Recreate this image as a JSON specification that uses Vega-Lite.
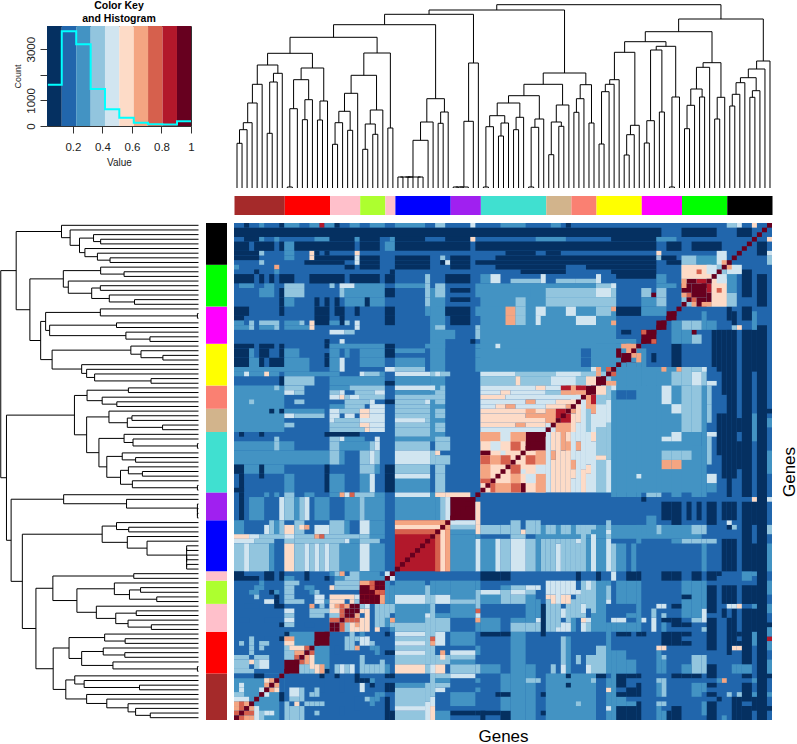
{"$schema":"https://vega.github.io/schema/vega-lite/v6.json","padding":0,"background":"white","config":{"view":{"stroke":null},"font":"Liberation Sans"},
"datasets":{
"tree":[{"l":1,"r":2,"h":44.7,"a":0,"b":0},{"l":1.5,"r":3,"h":58.3,"a":44.7,"b":0},{"l":2.25,"r":4,"h":65.3,"a":58.3,"b":0},{"l":3.125,"r":5,"h":85,"a":65.3,"b":0},{"l":4.06,"r":6,"h":103.7,"a":85,"b":0},{"l":7,"r":8,"h":54.7,"a":0,"b":0},{"l":7.5,"r":9,"h":106,"a":54.7,"b":0},{"l":8.25,"r":10,"h":114.7,"a":106,"b":0},{"l":5.03,"r":9.125,"h":123,"a":103.7,"b":114.7},{"l":11,"r":12,"h":1,"a":0,"b":0},{"l":11.5,"r":13,"h":79.3,"a":1,"b":0},{"l":14,"r":15,"h":68.3,"a":0,"b":0},{"l":14.5,"r":16,"h":88.3,"a":68.3,"b":0},{"l":12.25,"r":15.25,"h":108.3,"a":79.3,"b":88.3},{"l":17,"r":18,"h":68,"a":0,"b":0},{"l":17.5,"r":19,"h":87,"a":68,"b":0},{"l":13.75,"r":18.25,"h":120,"a":108.3,"b":87},{"l":7.08,"r":16,"h":134.7,"a":123,"b":120},{"l":20,"r":21,"h":43.7,"a":0,"b":0},{"l":20.5,"r":22,"h":65.3,"a":43.7,"b":0},{"l":23,"r":24,"h":57.7,"a":0,"b":0},{"l":21.25,"r":23.5,"h":76.7,"a":65.3,"b":57.7},{"l":22.375,"r":25,"h":94.7,"a":76.7,"b":0},{"l":26,"r":27,"h":38.7,"a":0,"b":0},{"l":28,"r":29,"h":53.7,"a":0,"b":0},{"l":26.5,"r":28.5,"h":64,"a":38.7,"b":53.7},{"l":27.5,"r":30,"h":78,"a":64,"b":0},{"l":23.69,"r":28.75,"h":112.7,"a":94.7,"b":78},{"l":31,"r":32,"h":60,"a":0,"b":0},{"l":26.22,"r":31.5,"h":135,"a":112.7,"b":60},{"l":11.54,"r":28.86,"h":150.7,"a":134.7,"b":135},{"l":33,"r":34,"h":11,"a":0,"b":0},{"l":35,"r":36,"h":11,"a":0,"b":0},{"l":37,"r":38,"h":11,"a":0,"b":0},{"l":33.5,"r":35.5,"h":11,"a":11,"b":11},{"l":34.5,"r":37.5,"h":11,"a":11,"b":11},{"l":36,"r":39,"h":47.7,"a":11,"b":0},{"l":37.5,"r":40,"h":66,"a":47.7,"b":0},{"l":41,"r":42,"h":64.7,"a":0,"b":0},{"l":41.5,"r":43,"h":76,"a":64.7,"b":0},{"l":38.75,"r":42.25,"h":89.3,"a":66,"b":76},{"l":20.2,"r":40.5,"h":163.3,"a":150.7,"b":89.3},{"l":44,"r":45,"h":1,"a":0,"b":0},{"l":44.5,"r":46,"h":1,"a":1,"b":0},{"l":45.25,"r":47,"h":1,"a":1,"b":0},{"l":46.125,"r":48,"h":66.7,"a":1,"b":0},{"l":47.06,"r":49,"h":125,"a":66.7,"b":0},{"l":30.35,"r":48.03,"h":173.7,"a":163.3,"b":125},{"l":50,"r":51,"h":1,"a":0,"b":0},{"l":50.5,"r":52,"h":61.3,"a":1,"b":0},{"l":53,"r":54,"h":52,"a":0,"b":0},{"l":53.5,"r":55,"h":65,"a":52,"b":0},{"l":51.25,"r":54.25,"h":72.3,"a":61.3,"b":65},{"l":56,"r":57,"h":58.3,"a":0,"b":0},{"l":56.5,"r":58,"h":70.7,"a":58.3,"b":0},{"l":52.75,"r":57.25,"h":85,"a":72.3,"b":70.7},{"l":59,"r":60,"h":1,"a":0,"b":0},{"l":59.5,"r":61,"h":60.7,"a":1,"b":0},{"l":60.25,"r":62,"h":69,"a":60.7,"b":0},{"l":55,"r":61.125,"h":92.3,"a":85,"b":69},{"l":63,"r":64,"h":33.3,"a":0,"b":0},{"l":65,"r":66,"h":61.7,"a":0,"b":0},{"l":63.5,"r":65.5,"h":66,"a":33.3,"b":61.7},{"l":64.5,"r":67,"h":83,"a":66,"b":0},{"l":58.06,"r":65.75,"h":103.7,"a":92.3,"b":83},{"l":68,"r":69,"h":75.7,"a":0,"b":0},{"l":68.5,"r":70,"h":89.3,"a":75.7,"b":0},{"l":71,"r":72,"h":65,"a":0,"b":0},{"l":69.25,"r":71.5,"h":103.3,"a":89.3,"b":65},{"l":61.9,"r":70.375,"h":115,"a":103.7,"b":103.3},{"l":39.19,"r":66.14,"h":178,"a":173.7,"b":115},{"l":73,"r":74,"h":44,"a":0,"b":0},{"l":73.5,"r":75,"h":96.3,"a":44,"b":0},{"l":74.25,"r":76,"h":103.7,"a":96.3,"b":0},{"l":75.125,"r":77,"h":108.3,"a":103.7,"b":0},{"l":78,"r":79,"h":33,"a":0,"b":0},{"l":78.5,"r":80,"h":53.3,"a":33,"b":0},{"l":79.25,"r":81,"h":62.7,"a":53.3,"b":0},{"l":76.06,"r":80.125,"h":135.7,"a":108.3,"b":62.7},{"l":82,"r":83,"h":45,"a":0,"b":0},{"l":82.5,"r":84,"h":67.3,"a":45,"b":0},{"l":85,"r":86,"h":76,"a":0,"b":0},{"l":83.25,"r":85.5,"h":138,"a":67.3,"b":76},{"l":87,"r":88,"h":1,"a":0,"b":0},{"l":87.5,"r":89,"h":91,"a":1,"b":0},{"l":84.375,"r":88.25,"h":141.7,"a":138,"b":91},{"l":78.09,"r":86.31,"h":146.3,"a":135.7,"b":141.7},{"l":90,"r":91,"h":59.3,"a":0,"b":0},{"l":90.5,"r":92,"h":82.7,"a":59.3,"b":0},{"l":93,"r":94,"h":91,"a":0,"b":0},{"l":91.25,"r":93.5,"h":99,"a":82.7,"b":91},{"l":92.375,"r":95,"h":120.7,"a":99,"b":0},{"l":96,"r":97,"h":69,"a":0,"b":0},{"l":96.5,"r":98,"h":90.7,"a":69,"b":0},{"l":93.69,"r":97.25,"h":125.3,"a":120.7,"b":90.7},{"l":82.2,"r":95.47,"h":156.3,"a":146.3,"b":125.3},{"l":99,"r":100,"h":82,"a":0,"b":0},{"l":99.5,"r":101,"h":93.7,"a":82,"b":0},{"l":100.25,"r":102,"h":105.3,"a":93.7,"b":0},{"l":103,"r":104,"h":90.7,"a":0,"b":0},{"l":103.5,"r":105,"h":97.3,"a":90.7,"b":0},{"l":101.125,"r":104.25,"h":110.3,"a":105.3,"b":97.3},{"l":102.69,"r":106,"h":119,"a":110.3,"b":0},{"l":104.34,"r":107,"h":127,"a":119,"b":0},{"l":88.83,"r":105.67,"h":169,"a":156.3,"b":127},{"l":52.66,"r":97.25,"h":183.3,"a":178,"b":169}],
"mods":[{"a":0,"b":10,"m":"brown"},{"a":10,"b":19,"m":"red"},{"a":19,"b":25,"m":"pink"},{"a":25,"b":30,"m":"greenyellow"},{"a":30,"b":32,"m":"pink"},{"a":32,"b":43,"m":"blue"},{"a":43,"b":49,"m":"purple"},{"a":49,"b":62,"m":"turquoise"},{"a":62,"b":67,"m":"tan"},{"a":67,"b":72,"m":"salmon"},{"a":72,"b":81,"m":"yellow"},{"a":81,"b":89,"m":"magenta"},{"a":89,"b":98,"m":"green"},{"a":98,"b":107,"m":"black"}],
"key":[{"a":0.024,"b":0.124,"v":0.07},{"a":0.124,"b":0.222,"v":0.17},{"a":0.222,"b":0.32,"v":0.27},{"a":0.32,"b":0.417,"v":0.37},{"a":0.417,"b":0.514,"v":0.47},{"a":0.514,"b":0.612,"v":0.56},{"a":0.612,"b":0.709,"v":0.66},{"a":0.709,"b":0.807,"v":0.76},{"a":0.807,"b":0.905,"v":0.86},{"a":0.905,"b":1,"v":0.95}],
"hist":[{"x":0.03,"n":1613},{"x":0.124,"n":3700},{"x":0.222,"n":3195},{"x":0.32,"n":1445},{"x":0.417,"n":653},{"x":0.514,"n":318},{"x":0.612,"n":124},{"x":0.709,"n":70},{"x":0.807,"n":60},{"x":0.905,"n":186},{"x":1,"n":186}],
"blocks":[{"a":0,"b":107,"v":0.2},{"a":0,"b":10,"v":0.3},{"a":10,"b":19,"v":0.3},{"a":19,"b":25,"v":0.4},{"a":25,"b":30,"v":0.9},{"a":32,"b":43,"v":0.9},{"a":43,"b":48,"v":1},{"a":49,"b":62,"v":0.6},{"a":62,"b":67,"v":0.5},{"a":67,"b":72,"v":0.5},{"a":72,"b":81,"v":0.3},{"a":89,"b":98,"v":0.4},{"a":10,"b":13,"v":1},{"a":16,"b":19,"v":1},{"a":58,"b":62,"v":1},{"a":70,"b":72,"v":1},{"a":72,"b":74,"v":1},{"a":77,"b":79,"v":1},{"a":81,"b":84,"v":1},{"a":84,"b":86,"v":1},{"a":86,"b":88,"v":1},{"a":91,"b":94,"v":1}],
"diag":[{"a":0,"b":1},{"a":1,"b":2},{"a":2,"b":3},{"a":3,"b":4},{"a":4,"b":5},{"a":5,"b":6},{"a":6,"b":7},{"a":7,"b":8},{"a":8,"b":9},{"a":9,"b":10},{"a":10,"b":11},{"a":11,"b":12},{"a":12,"b":13},{"a":13,"b":14},{"a":14,"b":15},{"a":15,"b":16},{"a":16,"b":17},{"a":17,"b":18},{"a":18,"b":19},{"a":19,"b":20},{"a":20,"b":21},{"a":21,"b":22},{"a":22,"b":23},{"a":23,"b":24},{"a":24,"b":25},{"a":25,"b":26},{"a":26,"b":27},{"a":27,"b":28},{"a":28,"b":29},{"a":29,"b":30},{"a":30,"b":31},{"a":31,"b":32},{"a":32,"b":33},{"a":33,"b":34},{"a":34,"b":35},{"a":35,"b":36},{"a":36,"b":37},{"a":37,"b":38},{"a":38,"b":39},{"a":39,"b":40},{"a":40,"b":41},{"a":41,"b":42},{"a":42,"b":43},{"a":43,"b":44},{"a":44,"b":45},{"a":45,"b":46},{"a":46,"b":47},{"a":47,"b":48},{"a":48,"b":49},{"a":49,"b":50},{"a":50,"b":51},{"a":51,"b":52},{"a":52,"b":53},{"a":53,"b":54},{"a":54,"b":55},{"a":55,"b":56},{"a":56,"b":57},{"a":57,"b":58},{"a":58,"b":59},{"a":59,"b":60},{"a":60,"b":61},{"a":61,"b":62},{"a":62,"b":63},{"a":63,"b":64},{"a":64,"b":65},{"a":65,"b":66},{"a":66,"b":67},{"a":67,"b":68},{"a":68,"b":69},{"a":69,"b":70},{"a":70,"b":71},{"a":71,"b":72},{"a":72,"b":73},{"a":73,"b":74},{"a":74,"b":75},{"a":75,"b":76},{"a":76,"b":77},{"a":77,"b":78},{"a":78,"b":79},{"a":79,"b":80},{"a":80,"b":81},{"a":81,"b":82},{"a":82,"b":83},{"a":83,"b":84},{"a":84,"b":85},{"a":85,"b":86},{"a":86,"b":87},{"a":87,"b":88},{"a":88,"b":89},{"a":89,"b":90},{"a":90,"b":91},{"a":91,"b":92},{"a":92,"b":93},{"a":93,"b":94},{"a":94,"b":95},{"a":95,"b":96},{"a":96,"b":97},{"a":97,"b":98},{"a":98,"b":99},{"a":99,"b":100},{"a":100,"b":101},{"a":101,"b":102},{"a":102,"b":103},{"a":103,"b":104},{"a":104,"b":105},{"a":105,"b":106},{"a":106,"b":107}],
"heat":[
{"a":39,"b":42,"c":60,"d":93,"v":0.3},{"a":49,"b":72,"c":72,"d":93,"v":0.3},{"a":72,"b":76,"c":81,"d":93,"v":0.3},{"a":0,"b":10,"c":62,"d":72,"v":0.3},
{"a":2,"b":3,"c":106,"d":107,"v":0.1},{"a":5,"b":6,"c":106,"d":107,"v":0.3},{"a":9,"b":10,"c":106,"d":107,"v":0.1},{"a":10,"b":13,"c":106,"d":107,"v":0.3},{"a":15,"b":17,"c":106,"d":107,"v":0.3},{"a":17,"b":18,"c":106,"d":107,"v":0.9},{"a":18,"b":20,"c":106,"d":107,"v":0.3},{"a":20,"b":21,"c":106,"d":107,"v":0.1},{"a":23,"b":25,"c":106,"d":107,"v":0.3},{"a":27,"b":30,"c":106,"d":107,"v":0.3},{"a":32,"b":38,"c":106,"d":107,"v":0.3},{"a":40,"b":42,"c":106,"d":107,"v":0.4},{"a":47,"b":48,"c":106,"d":107,"v":0.5},{"a":53,"b":58,"c":106,"d":107,"v":0.3},{"a":63,"b":65,"c":106,"d":107,"v":0.3},{"a":66,"b":67,"c":106,"d":107,"v":0.1},{"a":98,"b":100,"c":106,"d":107,"v":0.4},{"a":100,"b":101,"c":106,"d":107,"v":0.5},{"a":103,"b":104,"c":106,"d":107,"v":0.6},
{"a":0,"b":85,"c":104,"d":106,"v":0.1},{"a":89,"b":96,"c":104,"d":106,"v":0.1},{"a":100,"b":103,"c":104,"d":106,"v":0.1},
{"a":2,"b":5,"c":103,"d":104,"v":0.1},{"a":5,"b":6,"c":103,"d":104,"v":0.3},{"a":8,"b":9,"c":103,"d":104,"v":0.3},{"a":16,"b":19,"c":103,"d":104,"v":0.3},{"a":19,"b":24,"c":103,"d":104,"v":0.1},{"a":24,"b":25,"c":103,"d":104,"v":0.3},{"a":25,"b":29,"c":103,"d":104,"v":0.1},{"a":31,"b":32,"c":103,"d":104,"v":0.3},{"a":32,"b":38,"c":103,"d":104,"v":0.1},{"a":42,"b":47,"c":103,"d":104,"v":0.1},{"a":47,"b":48,"c":103,"d":104,"v":0.6},{"a":60,"b":66,"c":103,"d":104,"v":0.3},{"a":75,"b":84,"c":103,"d":104,"v":0.1},{"a":84,"b":88,"c":103,"d":104,"v":0.3},
{"a":0,"b":3,"c":101,"d":103,"v":0.1},{"a":4,"b":8,"c":101,"d":103,"v":0.1},{"a":9,"b":10,"c":101,"d":103,"v":0.1},{"a":10,"b":12,"c":101,"d":103,"v":0.3},{"a":12,"b":24,"c":101,"d":103,"v":0.1},{"a":25,"b":29,"c":101,"d":103,"v":0.1},{"a":30,"b":32,"c":101,"d":103,"v":0.3},{"a":32,"b":47,"c":101,"d":103,"v":0.1},{"a":48,"b":84,"c":101,"d":103,"v":0.1},{"a":86,"b":89,"c":101,"d":103,"v":0.1},{"a":91,"b":97,"c":101,"d":103,"v":0.1},
{"a":0,"b":5,"c":100,"d":101,"v":0.1},{"a":5,"b":6,"c":100,"d":101,"v":0.4},{"a":10,"b":12,"c":100,"d":101,"v":0.3},{"a":15,"b":16,"c":100,"d":101,"v":0.6},{"a":16,"b":17,"c":100,"d":101,"v":0.1},{"a":18,"b":19,"c":100,"d":101,"v":0.1},{"a":24,"b":25,"c":100,"d":101,"v":0.6},{"a":54,"b":60,"c":100,"d":101,"v":0.1},{"a":62,"b":65,"c":100,"d":101,"v":0.1},{"a":84,"b":85,"c":100,"d":101,"v":0.6},
{"a":0,"b":5,"c":99,"d":100,"v":0.1},{"a":10,"b":12,"c":99,"d":100,"v":0.3},{"a":15,"b":16,"c":99,"d":100,"v":0.6},{"a":16,"b":24,"c":99,"d":100,"v":0.1},{"a":24,"b":25,"c":99,"d":100,"v":0.5},{"a":25,"b":29,"c":99,"d":100,"v":0.1},{"a":32,"b":39,"c":99,"d":100,"v":0.1},{"a":41,"b":42,"c":99,"d":100,"v":0.4},{"a":43,"b":47,"c":99,"d":100,"v":0.1},{"a":52,"b":84,"c":99,"d":100,"v":0.1},{"a":84,"b":85,"c":99,"d":100,"v":0.4},{"a":85,"b":88,"c":99,"d":100,"v":0.1},
{"a":5,"b":6,"c":98,"d":99,"v":0.4},{"a":14,"b":22,"c":98,"d":99,"v":0.1},{"a":24,"b":25,"c":98,"d":99,"v":0.5},{"a":25,"b":29,"c":98,"d":99,"v":0.1},{"a":32,"b":39,"c":98,"d":99,"v":0.1},{"a":41,"b":42,"c":98,"d":99,"v":0.1},{"a":42,"b":43,"c":98,"d":99,"v":0.5},{"a":43,"b":47,"c":98,"d":99,"v":0.1},{"a":48,"b":84,"c":98,"d":99,"v":0.1},{"a":86,"b":89,"c":98,"d":99,"v":0.1},
{"a":89,"b":92,"c":98,"d":100,"v":0.4},{"a":92,"b":98,"c":98,"d":100,"v":0.3},{"a":96,"b":98,"c":98,"d":101,"v":0.5},{"a":97,"b":98,"c":98,"d":99,"v":0.7},
{"a":0,"b":1,"c":97,"d":98,"v":0.3},{"a":8,"b":9,"c":97,"d":98,"v":0.7},{"a":22,"b":24,"c":97,"d":98,"v":0.1},{"a":25,"b":29,"c":97,"d":98,"v":0.1},{"a":32,"b":39,"c":97,"d":98,"v":0.1},{"a":43,"b":47,"c":97,"d":98,"v":0.1},{"a":52,"b":66,"c":97,"d":98,"v":0.1},{"a":70,"b":84,"c":97,"d":98,"v":0.1},
{"a":4,"b":5,"c":96,"d":97,"v":0.1},{"a":8,"b":9,"c":96,"d":97,"v":0.3},{"a":31,"b":32,"c":96,"d":97,"v":0.1},{"a":57,"b":66,"c":96,"d":97,"v":0.1},{"a":75,"b":84,"c":96,"d":97,"v":0.1},
{"a":0,"b":4,"c":94,"d":96,"v":0.1},{"a":5,"b":6,"c":94,"d":96,"v":0.1},{"a":7,"b":8,"c":94,"d":96,"v":0.1},{"a":9,"b":12,"c":94,"d":96,"v":0.1},{"a":15,"b":22,"c":94,"d":96,"v":0.1},{"a":23,"b":29,"c":94,"d":96,"v":0.1},{"a":30,"b":32,"c":94,"d":96,"v":0.1},{"a":38,"b":39,"c":94,"d":96,"v":0.4},{"a":42,"b":47,"c":94,"d":96,"v":0.1},{"a":49,"b":51,"c":94,"d":96,"v":0.3},{"a":51,"b":53,"c":94,"d":96,"v":0.5},{"a":55,"b":61,"c":94,"d":95,"v":0.4},{"a":61,"b":62,"c":94,"d":96,"v":0.5},{"a":64,"b":68,"c":94,"d":95,"v":0.4},{"a":68,"b":72,"c":94,"d":95,"v":0.4},{"a":72,"b":73,"c":94,"d":96,"v":0.5},{"a":76,"b":84,"c":95,"d":96,"v":0.1},{"a":84,"b":86,"c":94,"d":96,"v":0.3},
{"a":1,"b":4,"c":93,"d":94,"v":0.3},{"a":6,"b":8,"c":93,"d":94,"v":0.3},{"a":10,"b":14,"c":93,"d":94,"v":0.4},{"a":19,"b":20,"c":93,"d":94,"v":0.4},{"a":21,"b":24,"c":93,"d":94,"v":0.5},{"a":24,"b":30,"c":93,"d":94,"v":0.3},{"a":32,"b":38,"c":93,"d":94,"v":0.3},{"a":38,"b":39,"c":93,"d":94,"v":0.4},{"a":40,"b":42,"c":93,"d":94,"v":0.4},{"a":48,"b":72,"c":93,"d":94,"v":0.3},{"a":72,"b":76,"c":93,"d":94,"v":0.4},{"a":75,"b":76,"c":93,"d":94,"v":0.5},{"a":84,"b":88,"c":93,"d":94,"v":0.3},
{"a":5,"b":8,"c":91,"d":93,"v":0.3},{"a":9,"b":10,"c":91,"d":93,"v":0.1},{"a":10,"b":14,"c":91,"d":93,"v":0.4},{"a":21,"b":22,"c":91,"d":93,"v":0.4},{"a":22,"b":30,"c":91,"d":93,"v":0.3},{"a":30,"b":32,"c":91,"d":93,"v":0.1},{"a":38,"b":39,"c":91,"d":93,"v":0.4},{"a":40,"b":42,"c":91,"d":93,"v":0.4},{"a":43,"b":47,"c":92,"d":93,"v":0.1},{"a":48,"b":59,"c":91,"d":93,"v":0.3},{"a":62,"b":72,"c":91,"d":93,"v":0.4},{"a":72,"b":75,"c":91,"d":93,"v":0.5},{"a":75,"b":76,"c":91,"d":93,"v":0.4},{"a":81,"b":83,"c":91,"d":93,"v":0.4},{"a":83,"b":84,"c":91,"d":92,"v":1},{"a":84,"b":86,"c":91,"d":93,"v":0.4},
{"a":9,"b":10,"c":89,"d":91,"v":0.1},{"a":10,"b":12,"c":89,"d":91,"v":0.3},{"a":16,"b":17,"c":89,"d":91,"v":0.1},{"a":18,"b":19,"c":89,"d":91,"v":0.1},{"a":20,"b":21,"c":89,"d":91,"v":0.1},{"a":22,"b":30,"c":89,"d":91,"v":0.3},{"a":26,"b":27,"c":89,"d":91,"v":0.1},{"a":38,"b":39,"c":89,"d":91,"v":0.4},{"a":43,"b":47,"c":90,"d":91,"v":0.1},{"a":56,"b":58,"c":89,"d":91,"v":0.4},{"a":62,"b":72,"c":89,"d":91,"v":0.4},{"a":72,"b":76,"c":89,"d":91,"v":0.4},{"a":81,"b":84,"c":89,"d":91,"v":0.3},{"a":84,"b":86,"c":89,"d":91,"v":0.4},
{"a":89,"b":90,"c":91,"d":92,"v":0.7},{"a":90,"b":91,"c":91,"d":92,"v":0.8},{"a":89,"b":91,"c":92,"d":94,"v":1},{"a":90,"b":92,"c":94,"d":95,"v":1},{"a":92,"b":94,"c":94,"d":95,"v":0.9},{"a":89,"b":95,"c":95,"d":98,"v":0.6},{"a":92,"b":93,"c":96,"d":97,"v":0.8},{"a":94,"b":96,"c":96,"d":98,"v":0.5},{"a":89,"b":90,"c":93,"d":95,"v":0.7},
{"a":0,"b":3,"c":87,"d":89,"v":0.1},{"a":9,"b":10,"c":87,"d":89,"v":0.1},{"a":16,"b":19,"c":87,"d":89,"v":0.1},{"a":20,"b":22,"c":87,"d":89,"v":0.1},{"a":24,"b":25,"c":87,"d":89,"v":0.1},{"a":30,"b":32,"c":87,"d":89,"v":0.1},{"a":38,"b":39,"c":87,"d":89,"v":0.3},{"a":40,"b":42,"c":87,"d":89,"v":0.3},{"a":42,"b":47,"c":87,"d":89,"v":0.1},{"a":48,"b":54,"c":87,"d":89,"v":0.3},{"a":54,"b":56,"c":87,"d":89,"v":0.7},{"a":56,"b":58,"c":87,"d":89,"v":0.4},{"a":60,"b":62,"c":87,"d":89,"v":0.5},{"a":66,"b":68,"c":87,"d":89,"v":0.5},{"a":72,"b":75,"c":87,"d":89,"v":0.4},{"a":75,"b":76,"c":88,"d":89,"v":0.7},{"a":76,"b":81,"c":87,"d":89,"v":0.1},{"a":81,"b":86,"c":87,"d":89,"v":0.3},
{"a":0,"b":2,"c":86,"d":87,"v":0.1},{"a":16,"b":19,"c":85,"d":87,"v":0.1},{"a":21,"b":22,"c":85,"d":87,"v":0.1},{"a":30,"b":32,"c":85,"d":87,"v":0.1},{"a":43,"b":47,"c":85,"d":87,"v":0.1},{"a":54,"b":56,"c":85,"d":87,"v":0.7},{"a":56,"b":58,"c":85,"d":87,"v":0.4},{"a":60,"b":61,"c":85,"d":87,"v":0.5},{"a":68,"b":72,"c":85,"d":87,"v":0.5},{"a":75,"b":76,"c":85,"d":86,"v":0.7},{"a":0,"b":2,"c":85,"d":86,"v":0.3},{"a":3,"b":4,"c":85,"d":86,"v":0.4},{"a":5,"b":9,"c":85,"d":86,"v":0.4},{"a":10,"b":13,"c":85,"d":86,"v":0.3},{"a":13,"b":14,"c":85,"d":86,"v":0.4},{"a":15,"b":16,"c":85,"d":86,"v":0.6},{"a":19,"b":21,"c":85,"d":86,"v":0.3},{"a":22,"b":23,"c":85,"d":86,"v":0.4},{"a":24,"b":25,"c":85,"d":86,"v":0.5},
{"a":0,"b":3,"c":84,"d":85,"v":0.3},{"a":3,"b":4,"c":84,"d":85,"v":0.4},{"a":5,"b":8,"c":84,"d":85,"v":0.3},{"a":8,"b":9,"c":84,"d":85,"v":0.4},{"a":10,"b":15,"c":84,"d":85,"v":0.3},{"a":15,"b":16,"c":84,"d":85,"v":0.6},{"a":24,"b":25,"c":84,"d":85,"v":0.5},{"a":40,"b":42,"c":84,"d":85,"v":0.4},{"a":48,"b":49,"c":84,"d":85,"v":0.4},{"a":49,"b":75,"c":84,"d":85,"v":0.3},
{"a":19,"b":22,"c":83,"d":84,"v":0.5},{"a":22,"b":24,"c":83,"d":84,"v":0.4},{"a":40,"b":44,"c":82,"d":84,"v":0.3},{"a":48,"b":49,"c":82,"d":84,"v":0.4},{"a":49,"b":75,"c":82,"d":84,"v":0.3},{"a":77,"b":79,"c":83,"d":84,"v":0.1},
{"a":18,"b":19,"c":81,"d":82,"v":0.1},{"a":21,"b":22,"c":81,"d":82,"v":0.5},{"a":40,"b":42,"c":81,"d":82,"v":0.3},{"a":47,"b":48,"c":81,"d":82,"v":0.1},{"a":49,"b":80,"c":81,"d":82,"v":0.3},
{"a":0,"b":4,"c":80,"d":81,"v":0.1},{"a":5,"b":8,"c":80,"d":81,"v":0.1},{"a":9,"b":10,"c":80,"d":81,"v":0.1},{"a":18,"b":19,"c":80,"d":81,"v":0.1},{"a":19,"b":30,"c":80,"d":81,"v":0.3},{"a":30,"b":32,"c":80,"d":81,"v":0.1},{"a":38,"b":42,"c":80,"d":81,"v":0.3},{"a":48,"b":52,"c":80,"d":81,"v":0.3},{"a":52,"b":53,"c":80,"d":81,"v":0.5},{"a":53,"b":80,"c":80,"d":81,"v":0.3},
{"a":0,"b":3,"c":78,"d":80,"v":0.1},{"a":3,"b":4,"c":78,"d":80,"v":0.3},{"a":5,"b":7,"c":78,"d":80,"v":0.1},{"a":9,"b":10,"c":78,"d":80,"v":0.1},{"a":10,"b":13,"c":78,"d":80,"v":0.3},{"a":18,"b":19,"c":78,"d":79,"v":0.1},{"a":19,"b":21,"c":78,"d":80,"v":0.3},{"a":22,"b":23,"c":78,"d":80,"v":0.3},{"a":25,"b":30,"c":78,"d":80,"v":0.3},{"a":30,"b":32,"c":78,"d":80,"v":0.1},{"a":32,"b":38,"c":79,"d":80,"v":0.3},{"a":48,"b":77,"c":78,"d":80,"v":0.3},{"a":69,"b":71,"c":78,"d":80,"v":0.2},
{"a":0,"b":3,"c":76,"d":78,"v":0.1},{"a":3,"b":5,"c":76,"d":78,"v":0.3},{"a":5,"b":6,"c":76,"d":78,"v":0.1},{"a":7,"b":10,"c":76,"d":78,"v":0.1},{"a":10,"b":15,"c":76,"d":78,"v":0.3},{"a":18,"b":19,"c":76,"d":78,"v":0.1},{"a":19,"b":21,"c":76,"d":78,"v":0.3},{"a":21,"b":22,"c":76,"d":78,"v":0.5},{"a":25,"b":30,"c":76,"d":78,"v":0.3},{"a":32,"b":38,"c":76,"d":78,"v":0.3},{"a":48,"b":76,"c":76,"d":78,"v":0.3},{"a":69,"b":71,"c":76,"d":78,"v":0.2},
{"a":0,"b":15,"c":75,"d":76,"v":0.3},{"a":19,"b":21,"c":75,"d":76,"v":0.3},{"a":21,"b":22,"c":75,"d":76,"v":0.5},{"a":30,"b":32,"c":75,"d":76,"v":0.5},{"a":32,"b":38,"c":75,"d":76,"v":0.4},{"a":48,"b":75,"c":75,"d":76,"v":0.3},{"a":71,"b":73,"c":75,"d":76,"v":0.5},
{"a":0,"b":2,"c":74,"d":75,"v":0.3},{"a":2,"b":3,"c":74,"d":75,"v":0.5},{"a":3,"b":6,"c":74,"d":75,"v":0.3},{"a":6,"b":7,"c":74,"d":75,"v":0.6},{"a":7,"b":9,"c":74,"d":75,"v":0.3},{"a":10,"b":21,"c":74,"d":75,"v":0.3},{"a":25,"b":26,"c":74,"d":75,"v":0.5},{"a":26,"b":29,"c":74,"d":75,"v":0.4},{"a":29,"b":30,"c":74,"d":75,"v":0.3},{"a":32,"b":39,"c":74,"d":75,"v":0.5},{"a":39,"b":40,"c":74,"d":75,"v":0.4},{"a":40,"b":41,"c":74,"d":75,"v":0.5},{"a":41,"b":43,"c":74,"d":75,"v":0.4},{"a":49,"b":56,"c":74,"d":75,"v":0.5},{"a":56,"b":64,"c":74,"d":75,"v":0.4},{"a":64,"b":69,"c":74,"d":75,"v":0.5},{"a":69,"b":74,"c":74,"d":75,"v":0.4},{"a":72,"b":73,"c":74,"d":75,"v":0.7},
{"a":9,"b":10,"c":72,"d":74,"v":0.1},{"a":10,"b":16,"c":72,"d":74,"v":0.4},{"a":19,"b":30,"c":72,"d":74,"v":0.3},{"a":30,"b":32,"c":72,"d":73,"v":0.1},{"a":32,"b":39,"c":72,"d":74,"v":0.3},{"a":49,"b":56,"c":72,"d":74,"v":0.4},{"a":56,"b":57,"c":72,"d":74,"v":0.6},{"a":57,"b":63,"c":72,"d":74,"v":0.4},{"a":63,"b":68,"c":72,"d":74,"v":0.5},{"a":68,"b":70,"c":72,"d":74,"v":0.4},{"a":70,"b":72,"c":72,"d":74,"v":0.6},
{"a":8,"b":9,"c":71,"d":72,"v":0.4},{"a":10,"b":14,"c":71,"d":72,"v":0.4},{"a":19,"b":23,"c":71,"d":72,"v":0.3},{"a":23,"b":30,"c":71,"d":72,"v":0.4},{"a":32,"b":40,"c":71,"d":72,"v":0.5},{"a":41,"b":42,"c":71,"d":72,"v":0.4},{"a":49,"b":60,"c":71,"d":72,"v":0.5},{"a":60,"b":62,"c":71,"d":72,"v":0.6},{"a":62,"b":66,"c":71,"d":72,"v":0.5},{"a":66,"b":69,"c":71,"d":72,"v":0.7},{"a":69,"b":70,"c":71,"d":72,"v":0.6},
{"a":10,"b":12,"c":70,"d":71,"v":0.5},{"a":12,"b":14,"c":70,"d":71,"v":0.4},{"a":19,"b":21,"c":70,"d":71,"v":0.4},{"a":21,"b":22,"c":70,"d":71,"v":0.5},{"a":24,"b":28,"c":70,"d":71,"v":0.4},{"a":28,"b":30,"c":70,"d":71,"v":0.5},{"a":32,"b":39,"c":70,"d":71,"v":0.3},{"a":40,"b":42,"c":70,"d":71,"v":0.4},{"a":49,"b":53,"c":70,"d":71,"v":0.5},{"a":53,"b":55,"c":70,"d":71,"v":0.6},{"a":55,"b":62,"c":70,"d":71,"v":0.5},{"a":62,"b":68,"c":70,"d":71,"v":0.4},{"a":68,"b":70,"c":70,"d":71,"v":0.7},
{"a":19,"b":21,"c":69,"d":70,"v":0.5},{"a":21,"b":22,"c":69,"d":70,"v":0.6},{"a":22,"b":23,"c":69,"d":70,"v":0.4},{"a":23,"b":25,"c":69,"d":70,"v":0.5},{"a":25,"b":30,"c":69,"d":70,"v":0.4},{"a":32,"b":42,"c":69,"d":70,"v":0.4},{"a":49,"b":54,"c":69,"d":70,"v":0.6},{"a":54,"b":69,"c":69,"d":70,"v":0.5},
{"a":3,"b":4,"c":68,"d":69,"v":0.4},{"a":12,"b":14,"c":68,"d":69,"v":0.4},{"a":22,"b":27,"c":68,"d":69,"v":0.4},{"a":27,"b":28,"c":68,"d":69,"v":0.5},{"a":30,"b":32,"c":68,"d":69,"v":0.1},{"a":32,"b":38,"c":68,"d":69,"v":0.4},{"a":38,"b":39,"c":68,"d":69,"v":0.5},{"a":40,"b":42,"c":68,"d":69,"v":0.4},{"a":49,"b":58,"c":68,"d":69,"v":0.5},{"a":58,"b":60,"c":68,"d":69,"v":0.7},{"a":60,"b":64,"c":68,"d":69,"v":0.5},{"a":64,"b":68,"c":68,"d":69,"v":0.6},
{"a":19,"b":22,"c":67,"d":68,"v":0.3},{"a":22,"b":26,"c":67,"d":68,"v":0.4},{"a":27,"b":30,"c":67,"d":68,"v":0.5},{"a":32,"b":39,"c":67,"d":68,"v":0.4},{"a":49,"b":52,"c":67,"d":68,"v":0.5},{"a":52,"b":54,"c":67,"d":68,"v":0.6},{"a":54,"b":56,"c":67,"d":68,"v":0.7},{"a":56,"b":62,"c":67,"d":68,"v":0.5},{"a":62,"b":66,"c":67,"d":68,"v":0.6},{"a":66,"b":67,"c":67,"d":68,"v":0.7},
{"a":7,"b":8,"c":66,"d":67,"v":0.1},{"a":9,"b":10,"c":66,"d":67,"v":0.1},{"a":10,"b":18,"c":66,"d":67,"v":0.3},{"a":19,"b":21,"c":66,"d":67,"v":0.5},{"a":21,"b":25,"c":66,"d":67,"v":0.4},{"a":25,"b":27,"c":66,"d":67,"v":0.6},{"a":27,"b":30,"c":66,"d":67,"v":0.5},{"a":32,"b":39,"c":66,"d":67,"v":0.4},{"a":40,"b":42,"c":66,"d":67,"v":0.4},{"a":49,"b":62,"c":66,"d":67,"v":0.6},{"a":58,"b":60,"c":66,"d":67,"v":0.7},
{"a":10,"b":12,"c":65,"d":66,"v":0.5},{"a":12,"b":18,"c":65,"d":66,"v":0.4},{"a":19,"b":21,"c":65,"d":66,"v":0.5},{"a":22,"b":24,"c":65,"d":66,"v":0.5},{"a":25,"b":27,"c":65,"d":66,"v":0.6},{"a":27,"b":30,"c":65,"d":66,"v":0.5},{"a":32,"b":39,"c":65,"d":66,"v":0.4},{"a":40,"b":42,"c":65,"d":66,"v":0.4},{"a":49,"b":58,"c":65,"d":66,"v":0.6},{"a":58,"b":64,"c":65,"d":66,"v":0.7},
{"a":19,"b":20,"c":64,"d":65,"v":0.5},{"a":20,"b":25,"c":64,"d":65,"v":0.4},{"a":25,"b":30,"c":64,"d":65,"v":0.5},{"a":32,"b":38,"c":64,"d":65,"v":0.5},{"a":38,"b":39,"c":64,"d":65,"v":0.4},{"a":49,"b":62,"c":64,"d":65,"v":0.6},{"a":62,"b":64,"c":64,"d":65,"v":0.8},
{"a":10,"b":12,"c":63,"d":64,"v":0.4},{"a":19,"b":25,"c":63,"d":64,"v":0.4},{"a":25,"b":27,"c":63,"d":64,"v":0.6},{"a":27,"b":30,"c":63,"d":64,"v":0.5},{"a":32,"b":39,"c":63,"d":64,"v":0.4},{"a":40,"b":42,"c":63,"d":64,"v":0.4},{"a":49,"b":56,"c":63,"d":64,"v":0.6},{"a":56,"b":58,"c":63,"d":64,"v":0.7},{"a":58,"b":62,"c":63,"d":64,"v":0.6},
{"a":19,"b":26,"c":62,"d":63,"v":0.4},{"a":26,"b":27,"c":62,"d":63,"v":0.6},{"a":27,"b":30,"c":62,"d":63,"v":0.5},{"a":32,"b":39,"c":62,"d":63,"v":0.4},{"a":40,"b":42,"c":62,"d":63,"v":0.4},{"a":49,"b":62,"c":62,"d":63,"v":0.5},
{"a":1,"b":2,"c":61,"d":62,"v":0.1},{"a":5,"b":6,"c":61,"d":62,"v":0.1},{"a":18,"b":25,"c":61,"d":62,"v":0.1},{"a":32,"b":39,"c":61,"d":62,"v":0.4},
{"a":8,"b":9,"c":60,"d":61,"v":0.4},{"a":19,"b":21,"c":60,"d":61,"v":0.4},{"a":21,"b":22,"c":60,"d":61,"v":0.5},{"a":22,"b":26,"c":60,"d":61,"v":0.3},{"a":28,"b":29,"c":60,"d":61,"v":0.5},{"a":32,"b":40,"c":60,"d":61,"v":0.3},{"a":40,"b":43,"c":60,"d":61,"v":0.4},
{"a":0,"b":12,"c":58,"d":60,"v":0.3},{"a":8,"b":9,"c":58,"d":60,"v":0.4},{"a":19,"b":21,"c":58,"d":60,"v":0.4},{"a":21,"b":27,"c":58,"d":60,"v":0.3},{"a":27,"b":28,"c":58,"d":60,"v":0.4},{"a":28,"b":29,"c":58,"d":60,"v":0.5},{"a":32,"b":39,"c":58,"d":60,"v":0.4},{"a":40,"b":43,"c":58,"d":60,"v":0.4},
{"a":0,"b":19,"c":55,"d":58,"v":0.3},{"a":19,"b":21,"c":55,"d":58,"v":0.4},{"a":21,"b":22,"c":55,"d":58,"v":0.3},{"a":25,"b":27,"c":55,"d":58,"v":0.4},{"a":27,"b":28,"c":55,"d":58,"v":0.5},{"a":28,"b":29,"c":55,"d":58,"v":0.4},{"a":32,"b":39,"c":55,"d":58,"v":0.5},{"a":39,"b":40,"c":55,"d":58,"v":0.4},{"a":40,"b":41,"c":57,"d":58,"v":0.6},{"a":40,"b":43,"c":55,"d":57,"v":0.4},
{"a":0,"b":2,"c":53,"d":55,"v":0.1},{"a":2,"b":10,"c":53,"d":55,"v":0.3},{"a":5,"b":6,"c":53,"d":55,"v":0.1},{"a":18,"b":19,"c":53,"d":55,"v":0.1},{"a":25,"b":28,"c":53,"d":55,"v":0.4},{"a":28,"b":29,"c":53,"d":55,"v":0.3},{"a":30,"b":32,"c":53,"d":55,"v":0.1},{"a":32,"b":39,"c":53,"d":55,"v":0.4},{"a":40,"b":42,"c":53,"d":55,"v":0.4},
{"a":1,"b":2,"c":49,"d":53,"v":0.1},{"a":5,"b":6,"c":52,"d":53,"v":0.1},{"a":10,"b":12,"c":49,"d":53,"v":0.3},{"a":18,"b":19,"c":49,"d":53,"v":0.1},{"a":19,"b":22,"c":49,"d":53,"v":0.3},{"a":25,"b":28,"c":49,"d":53,"v":0.3},{"a":27,"b":28,"c":49,"d":53,"v":0.5},{"a":30,"b":32,"c":49,"d":53,"v":0.1},{"a":32,"b":39,"c":49,"d":53,"v":0.3},{"a":32,"b":39,"c":52,"d":53,"v":0.5},{"a":40,"b":42,"c":49,"d":53,"v":0.4},{"a":0,"b":2,"c":49,"d":50,"v":0.1},
{"a":49,"b":53,"c":60,"d":62,"v":0.7},{"a":51,"b":53,"c":58,"d":60,"v":0.5},{"a":49,"b":51,"c":57,"d":58,"v":1},{"a":49,"b":51,"c":55,"d":57,"v":0.8},{"a":51,"b":53,"c":55,"d":57,"v":0.7},{"a":53,"b":54,"c":56,"d":58,"v":0.5},{"a":49,"b":51,"c":52,"d":55,"v":0.7},{"a":49,"b":51,"c":51,"d":52,"v":0.8},{"a":53,"b":55,"c":55,"d":57,"v":0.8},{"a":55,"b":57,"c":58,"d":60,"v":0.8},{"a":53,"b":55,"c":60,"d":62,"v":0.5},{"a":55,"b":58,"c":60,"d":62,"v":0.7},
{"a":62,"b":64,"c":64,"d":67,"v":0.7},{"a":64,"b":66,"c":65,"d":67,"v":0.9},{"a":67,"b":68,"c":70,"d":72,"v":0.7},{"a":68,"b":70,"c":71,"d":72,"v":0.9},{"a":70,"b":71,"c":65,"d":67,"v":0.7},{"a":71,"b":72,"c":65,"d":67,"v":0.9},{"a":72,"b":73,"c":75,"d":76,"v":0.7},{"a":74,"b":75,"c":75,"d":76,"v":0.8},
{"a":77,"b":79,"c":80,"d":81,"v":0.7},{"a":79,"b":81,"c":78,"d":80,"v":0.7},{"a":78,"b":80,"c":76,"d":77,"v":1},{"a":81,"b":82,"c":83,"d":84,"v":0.8},
{"a":1,"b":2,"c":48,"d":49,"v":0.1},{"a":6,"b":7,"c":48,"d":49,"v":0.3},{"a":8,"b":9,"c":48,"d":49,"v":0.3},{"a":10,"b":12,"c":48,"d":49,"v":0.4},{"a":14,"b":16,"c":48,"d":49,"v":0.3},{"a":19,"b":21,"c":48,"d":49,"v":0.3},{"a":21,"b":22,"c":48,"d":49,"v":0.7},{"a":22,"b":23,"c":48,"d":49,"v":0.5},{"a":23,"b":24,"c":48,"d":49,"v":0.8},{"a":24,"b":28,"c":48,"d":49,"v":0.4},{"a":28,"b":30,"c":48,"d":49,"v":0.3},{"a":32,"b":39,"c":48,"d":49,"v":0.5},{"a":39,"b":40,"c":48,"d":49,"v":0.3},{"a":40,"b":42,"c":48,"d":49,"v":0.6},{"a":42,"b":47,"c":48,"d":49,"v":0.6},
{"a":1,"b":2,"c":43,"d":48,"v":0.1},{"a":3,"b":6,"c":43,"d":48,"v":0.3},{"a":9,"b":10,"c":43,"d":48,"v":0.5},{"a":10,"b":12,"c":43,"d":48,"v":0.4},{"a":12,"b":13,"c":43,"d":48,"v":0.3},{"a":13,"b":14,"c":43,"d":48,"v":0.4},{"a":14,"b":15,"c":43,"d":48,"v":0.5},{"a":16,"b":19,"c":43,"d":48,"v":0.3},{"a":22,"b":25,"c":43,"d":48,"v":0.3},{"a":25,"b":26,"c":43,"d":48,"v":0.4},{"a":26,"b":30,"c":43,"d":48,"v":0.3},{"a":32,"b":40,"c":43,"d":48,"v":0.3},{"a":40,"b":41,"c":43,"d":48,"v":0.3},{"a":41,"b":42,"c":43,"d":48,"v":0.4},{"a":42,"b":43,"c":43,"d":48,"v":0.5},
{"a":32,"b":41,"c":42,"d":43,"v":0.7},{"a":32,"b":41,"c":41,"d":42,"v":0.6},{"a":32,"b":41,"c":40,"d":41,"v":0.8},{"a":39,"b":41,"c":39,"d":40,"v":0.8},{"a":41,"b":43,"c":41,"d":43,"v":0.7},
{"a":0,"b":2,"c":40,"d":43,"v":0.3},{"a":6,"b":7,"c":40,"d":42,"v":0.5},{"a":7,"b":8,"c":40,"d":43,"v":0.4},{"a":8,"b":9,"c":40,"d":43,"v":0.3},{"a":9,"b":10,"c":40,"d":43,"v":0.4},{"a":10,"b":12,"c":40,"d":42,"v":0.6},{"a":12,"b":14,"c":40,"d":43,"v":0.4},{"a":13,"b":14,"c":41,"d":42,"v":0.6},{"a":14,"b":15,"c":41,"d":42,"v":0.7},{"a":16,"b":19,"c":40,"d":42,"v":0.5},{"a":19,"b":22,"c":40,"d":43,"v":0.4},{"a":22,"b":23,"c":40,"d":43,"v":0.3},{"a":25,"b":27,"c":40,"d":43,"v":0.5},{"a":27,"b":30,"c":40,"d":43,"v":0.3},
{"a":0,"b":3,"c":39,"d":40,"v":0.6},{"a":3,"b":5,"c":39,"d":40,"v":0.5},{"a":5,"b":10,"c":39,"d":40,"v":0.4},{"a":10,"b":12,"c":39,"d":40,"v":0.5},{"a":12,"b":16,"c":39,"d":40,"v":0.4},{"a":16,"b":17,"c":39,"d":40,"v":0.7},{"a":17,"b":18,"c":39,"d":40,"v":0.8},{"a":18,"b":25,"c":39,"d":40,"v":0.4},{"a":25,"b":27,"c":39,"d":40,"v":0.4},{"a":27,"b":30,"c":39,"d":40,"v":0.3},
{"a":0,"b":4,"c":38,"d":39,"v":0.5},{"a":4,"b":8,"c":38,"d":39,"v":0.4},{"a":10,"b":12,"c":38,"d":39,"v":0.4},{"a":12,"b":22,"c":38,"d":39,"v":0.4},{"a":22,"b":23,"c":38,"d":39,"v":0.5},{"a":23,"b":25,"c":38,"d":39,"v":0.3},{"a":25,"b":29,"c":38,"d":39,"v":0.4},
{"a":0,"b":2,"c":32,"d":38,"v":0.4},{"a":2,"b":3,"c":32,"d":38,"v":0.5},{"a":3,"b":7,"c":32,"d":38,"v":0.4},{"a":7,"b":8,"c":32,"d":38,"v":0.3},{"a":10,"b":12,"c":32,"d":38,"v":0.6},{"a":12,"b":14,"c":32,"d":38,"v":0.4},{"a":14,"b":15,"c":32,"d":38,"v":0.5},{"a":15,"b":16,"c":32,"d":38,"v":0.4},{"a":16,"b":17,"c":32,"d":38,"v":0.5},{"a":17,"b":18,"c":32,"d":38,"v":0.4},{"a":18,"b":19,"c":32,"d":38,"v":0.5},{"a":19,"b":21,"c":32,"d":38,"v":0.4},{"a":21,"b":25,"c":32,"d":38,"v":0.3},{"a":25,"b":27,"c":32,"d":38,"v":0.5},{"a":27,"b":30,"c":32,"d":38,"v":0.3},
{"a":0,"b":2,"c":31,"d":32,"v":0.1},{"a":6,"b":8,"c":31,"d":32,"v":0.1},{"a":9,"b":10,"c":31,"d":32,"v":0.1},{"a":14,"b":15,"c":31,"d":32,"v":0.1},{"a":19,"b":20,"c":31,"d":32,"v":0.3},{"a":20,"b":21,"c":31,"d":32,"v":0.4},{"a":21,"b":22,"c":31,"d":32,"v":0.7},{"a":23,"b":25,"c":31,"d":32,"v":0.4},{"a":25,"b":29,"c":31,"d":32,"v":0.3},{"a":30,"b":31,"c":31,"d":32,"v":0.5},
{"a":0,"b":5,"c":30,"d":31,"v":0.1},{"a":6,"b":8,"c":30,"d":31,"v":0.1},{"a":9,"b":10,"c":30,"d":31,"v":0.1},{"a":10,"b":12,"c":30,"d":31,"v":0.3},{"a":14,"b":15,"c":30,"d":31,"v":0.1},{"a":18,"b":19,"c":30,"d":31,"v":0.1},{"a":20,"b":22,"c":30,"d":31,"v":0.3},{"a":22,"b":25,"c":30,"d":31,"v":0.4},{"a":25,"b":30,"c":30,"d":31,"v":0.3},
{"a":5,"b":6,"c":29,"d":30,"v":0.3},{"a":10,"b":13,"c":29,"d":30,"v":0.4},{"a":20,"b":25,"c":29,"d":30,"v":0.4},{"a":25,"b":27,"c":29,"d":30,"v":0.7},{"a":27,"b":28,"c":29,"d":30,"v":0.8},{"a":28,"b":29,"c":29,"d":30,"v":1},
{"a":4,"b":6,"c":28,"d":29,"v":0.3},{"a":10,"b":12,"c":28,"d":29,"v":0.4},{"a":14,"b":16,"c":28,"d":29,"v":0.3},{"a":19,"b":20,"c":28,"d":29,"v":0.6},{"a":20,"b":25,"c":28,"d":29,"v":0.4},{"a":25,"b":27,"c":28,"d":29,"v":1},{"a":27,"b":28,"c":28,"d":29,"v":0.8},
{"a":3,"b":5,"c":27,"d":28,"v":0.3},{"a":7,"b":8,"c":27,"d":28,"v":0.1},{"a":8,"b":9,"c":27,"d":28,"v":0.3},{"a":10,"b":12,"c":27,"d":28,"v":0.4},{"a":15,"b":16,"c":27,"d":28,"v":0.3},{"a":16,"b":17,"c":27,"d":28,"v":0.4},{"a":25,"b":27,"c":27,"d":28,"v":1},
{"a":4,"b":5,"c":26,"d":27,"v":0.4},{"a":8,"b":9,"c":26,"d":27,"v":0.1},{"a":10,"b":12,"c":26,"d":27,"v":0.4},{"a":16,"b":18,"c":26,"d":27,"v":0.5},{"a":19,"b":24,"c":26,"d":27,"v":0.6},{"a":24,"b":25,"c":26,"d":27,"v":0.5},{"a":25,"b":26,"c":26,"d":27,"v":1},
{"a":6,"b":8,"c":25,"d":26,"v":0.5},{"a":8,"b":9,"c":25,"d":26,"v":0.1},{"a":10,"b":14,"c":25,"d":26,"v":0.4},{"a":16,"b":18,"c":25,"d":26,"v":0.5},{"a":18,"b":19,"c":25,"d":26,"v":0.3},{"a":19,"b":22,"c":25,"d":26,"v":0.6},{"a":23,"b":24,"c":25,"d":26,"v":0.6},{"a":24,"b":25,"c":25,"d":26,"v":0.4},
{"a":2,"b":5,"c":24,"d":25,"v":0.2},{"a":8,"b":10,"c":24,"d":25,"v":0.1},{"a":15,"b":16,"c":24,"d":25,"v":0.7},{"a":17,"b":18,"c":24,"d":25,"v":0.4},{"a":19,"b":20,"c":24,"d":25,"v":0.6},{"a":20,"b":21,"c":24,"d":25,"v":0.7},{"a":21,"b":22,"c":24,"d":25,"v":0.8},{"a":22,"b":23,"c":24,"d":25,"v":0.7},{"a":23,"b":24,"c":24,"d":25,"v":1},
{"a":10,"b":12,"c":23,"d":24,"v":0.5},{"a":15,"b":19,"c":23,"d":24,"v":0.4},{"a":19,"b":21,"c":23,"d":24,"v":0.6},{"a":21,"b":22,"c":23,"d":24,"v":0.8},{"a":22,"b":23,"c":23,"d":24,"v":1},
{"a":10,"b":12,"c":22,"d":23,"v":0.4},{"a":15,"b":18,"c":22,"d":23,"v":0.4},{"a":19,"b":21,"c":22,"d":23,"v":0.4},{"a":21,"b":22,"c":22,"d":23,"v":0.8},
{"a":1,"b":3,"c":21,"d":22,"v":0.2},{"a":6,"b":10,"c":21,"d":22,"v":0.2},{"a":10,"b":12,"c":21,"d":22,"v":0.5},{"a":19,"b":21,"c":21,"d":22,"v":0.8},
{"a":9,"b":10,"c":20,"d":21,"v":0.1},{"a":10,"b":12,"c":20,"d":21,"v":0.4},{"a":14,"b":16,"c":20,"d":21,"v":0.2},{"a":19,"b":20,"c":20,"d":21,"v":1},
{"a":10,"b":11,"c":18,"d":19,"v":0.1},{"a":6,"b":9,"c":17,"d":18,"v":0.2},{"a":9,"b":10,"c":17,"d":18,"v":0.1},{"a":3,"b":4,"c":17,"d":18,"v":0.4},{"a":10,"b":12,"c":17,"d":18,"v":0.7},{"a":1,"b":2,"c":16,"d":17,"v":0.4},{"a":3,"b":4,"c":16,"d":17,"v":0.4},{"a":5,"b":7,"c":16,"d":17,"v":0.4},{"a":10,"b":12,"c":16,"d":17,"v":0.6},{"a":3,"b":4,"c":15,"d":16,"v":0.4},{"a":5,"b":6,"c":15,"d":16,"v":0.4},{"a":10,"b":11,"c":15,"d":16,"v":0.4},{"a":11,"b":14,"c":15,"d":16,"v":0.6},{"a":14,"b":15,"c":15,"d":16,"v":0.8},
{"a":3,"b":4,"c":14,"d":15,"v":0.4},{"a":10,"b":12,"c":14,"d":15,"v":0.4},{"a":12,"b":14,"c":14,"d":15,"v":0.7},{"a":0,"b":3,"c":13,"d":14,"v":0.4},{"a":4,"b":7,"c":13,"d":14,"v":0.4},{"a":10,"b":12,"c":13,"d":14,"v":0.4},{"a":12,"b":13,"c":13,"d":14,"v":0.8},
{"a":0,"b":3,"c":11,"d":13,"v":0.4},{"a":3,"b":4,"c":12,"d":13,"v":0.6},{"a":4,"b":5,"c":11,"d":13,"v":0.4},{"a":5,"b":7,"c":11,"d":13,"v":0.5},{"a":0,"b":4,"c":10,"d":11,"v":0.4},
{"a":0,"b":9,"c":9,"d":10,"v":0.2},{"a":4,"b":6,"c":9,"d":10,"v":0.1},{"a":6,"b":7,"c":8,"d":9,"v":0.6},{"a":7,"b":8,"c":8,"d":9,"v":0.7},{"a":1,"b":2,"c":7,"d":8,"v":0.5},{"a":6,"b":7,"c":7,"d":8,"v":0.7},{"a":1,"b":2,"c":6,"d":7,"v":0.5},{"a":5,"b":6,"c":6,"d":7,"v":0.5},{"a":0,"b":2,"c":5,"d":6,"v":0.4},{"a":0,"b":3,"c":4,"d":5,"v":0.5},{"a":0,"b":1,"c":3,"d":4,"v":0.7},{"a":1,"b":2,"c":3,"d":4,"v":0.8},{"a":2,"b":3,"c":3,"d":4,"v":0.7},{"a":0,"b":1,"c":2,"d":3,"v":0.7},{"a":1,"b":2,"c":2,"d":3,"v":0.8},{"a":0,"b":1,"c":1,"d":2,"v":0.8}
]},
"spacing":8,
"vconcat":[
{"spacing":38.5,"hconcat":[
 {"spacing":0,"hconcat":[
  {"width":12,"height":10,"data":{"values":[]},"mark":"rect","encoding":{}},
  {"spacing":0,"vconcat":[
   {"width":144,"height":25,"data":{"values":[{"t":"Color Key","m":0.5,"p":6},{"t":"and Histogram","m":0.5,"p":18.5}]},"mark":{"type":"text","fontSize":10.5,"fontWeight":"bold","color":"black","baseline":"middle","align":"center"},"encoding":{"text":{"field":"t"},"x":{"field":"m","type":"quantitative","axis":null,"scale":{"domain":[0,1]}},"y":{"field":"p","type":"quantitative","axis":null,"scale":{"domain":[25,0],"nice":false,"zero":false}}}},
   {"width":144,"height":100,"view":{"stroke":"#333333"},
   "layer":[
    {"data":{"name":"key"},"mark":"rect","encoding":{"x":{"field":"a","type":"quantitative","scale":{"domain":[0.024,1],"nice":false,"zero":false},"axis":{"values":[0.2,0.4,0.6,0.8,1],"format":".1~f","title":"Value","grid":false,"domain":false,"tickSize":7,"tickColor":"#333333","labelFontSize":11.5,"labelColor":"#222222","labelPadding":8,"labelOverlap":false,"labelBound":false,"labelFlush":false,"titleFontSize":10,"titleFontWeight":"normal","titleColor":"#222222","titlePadding":5}},"x2":{"field":"b"},"color":{"field":"v","type":"quantitative","legend":null,"scale":{"type":"threshold","domain":[0.124,0.222,0.32,0.417,0.514,0.612,0.709,0.807,0.905],"range":["#053061","#2166ac","#4393c3","#92c5de","#d1e5f0","#fddbc7","#f4a582","#d6604d","#b2182b","#67001f"]}}}},
    {"data":{"name":"hist"},"mark":{"type":"line","interpolate":"step-after","color":"#00ffff","strokeWidth":2},"encoding":{"x":{"field":"x","type":"quantitative","axis":{"values":[0.2,0.4,0.6,0.8,1],"format":".1~f","title":"Value","grid":false,"domain":false,"tickSize":7,"tickColor":"#333333","labelFontSize":11.5,"labelColor":"#222222","labelPadding":8,"labelOverlap":false,"labelBound":false,"labelFlush":false,"titleFontSize":10,"titleFontWeight":"normal","titleColor":"#222222","titlePadding":5}},"y":{"field":"n","type":"quantitative","scale":{"domain":[0,3905],"nice":false},"axis":{"values":[0,1000,2000,3000],"labelExpr":"datum.value==2000?'':datum.label","format":"d","title":"Count","grid":false,"domain":false,"tickSize":7,"tickColor":"#333333","labelAngle":-90,"labelFontSize":11.5,"labelColor":"#222222","labelPadding":4,"labelOverlap":false,"labelBound":false,"titleFontSize":9,"titleFontWeight":"normal","titleColor":"#222222","titlePadding":3}}}}
   ]}
  ]}
 ]},
 {"spacing":7,"vconcat":[
  {"width":538,"height":188,"data":{"name":"tree"},"layer":[
   {"mark":{"type":"rule","color":"black","strokeWidth":1},"encoding":{"x":{"field":"l","type":"quantitative","axis":null,"scale":{"domain":[0.5,107.5],"nice":false,"zero":false}},"x2":{"field":"r"},"y":{"field":"h","type":"quantitative","axis":null,"scale":{"domain":[0,188],"nice":false}}}},
   {"mark":{"type":"rule","color":"black","strokeWidth":1},"encoding":{"x":{"field":"l","type":"quantitative","axis":null},"y":{"field":"h","type":"quantitative","axis":null},"y2":{"field":"a"}}},
   {"mark":{"type":"rule","color":"black","strokeWidth":1},"encoding":{"x":{"field":"r","type":"quantitative","axis":null},"y":{"field":"h","type":"quantitative","axis":null},"y2":{"field":"b"}}}
  ]},
  {"width":538,"height":19,"data":{"name":"mods"},"mark":"rect","encoding":{"x":{"field":"a","type":"quantitative","axis":null,"scale":{"domain":[0,107],"nice":false}},"x2":{"field":"b"},"color":{"field":"m","type":"nominal","legend":null,"scale":{"domain":["brown","red","pink","greenyellow","blue","purple","turquoise","tan","salmon","yellow","magenta","green","black"],"range":["#a52a2a","#ff0000","#ffc0cb","#adff2f","#0000ff","#a020f0","#40e0d0","#d2b48c","#fa8072","#ffff00","#ff00ff","#00ff00","#000000"]}}}}
 ]}
]},
{"spacing":7,"hconcat":[
 {"width":198.5,"height":497,"data":{"name":"tree"},"layer":[
   {"mark":{"type":"rule","color":"black","strokeWidth":1},"encoding":{"y":{"field":"l","type":"quantitative","axis":null,"scale":{"domain":[0.5,107.5],"nice":false,"zero":false}},"y2":{"field":"r"},"x":{"field":"h","type":"quantitative","axis":null,"scale":{"domain":[184,0],"nice":false}}}},
   {"mark":{"type":"rule","color":"black","strokeWidth":1},"encoding":{"y":{"field":"l","type":"quantitative","axis":null},"x":{"field":"h","type":"quantitative","axis":null},"x2":{"field":"a"}}},
   {"mark":{"type":"rule","color":"black","strokeWidth":1},"encoding":{"y":{"field":"r","type":"quantitative","axis":null},"x":{"field":"h","type":"quantitative","axis":null},"x2":{"field":"b"}}}
 ]},
 {"width":21,"height":497,"data":{"name":"mods"},"mark":"rect","encoding":{"y":{"field":"a","type":"quantitative","axis":null,"scale":{"domain":[0,107],"nice":false}},"y2":{"field":"b"},"color":{"field":"m","type":"nominal","legend":null,"scale":{"domain":["brown","red","pink","greenyellow","blue","purple","turquoise","tan","salmon","yellow","magenta","green","black"],"range":["#a52a2a","#ff0000","#ffc0cb","#adff2f","#0000ff","#a020f0","#40e0d0","#d2b48c","#fa8072","#ffff00","#ff00ff","#00ff00","#000000"]}}}},
 {"width":538,"height":497,"layer":[
  {"data":{"name":"blocks"},"mark":"rect","encoding":{"x":{"field":"a","type":"quantitative","scale":{"domain":[0,107],"nice":false},"axis":{"title":"Genes","labels":false,"ticks":false,"domain":false,"grid":false,"titleFontSize":17,"titleFontWeight":"normal","titleColor":"black","titlePadding":8}},"x2":{"field":"b"},"y":{"field":"a","type":"quantitative","scale":{"domain":[0,107],"nice":false},"axis":{"orient":"right","title":"Genes","labels":false,"ticks":false,"domain":false,"grid":false,"titleFontSize":17,"titleFontWeight":"normal","titleColor":"black","titleAngle":-90,"titleBaseline":"top","titlePadding":9}},"y2":{"field":"b"},"color":{"field":"v","type":"quantitative","legend":null,"scale":{"type":"threshold","domain":[0.124,0.222,0.32,0.417,0.514,0.612,0.709,0.807,0.905],"range":["#053061","#2166ac","#4393c3","#92c5de","#d1e5f0","#fddbc7","#f4a582","#d6604d","#b2182b","#67001f"]}}}},
  {"data":{"name":"heat"},"mark":"rect","encoding":{"x":{"field":"a","type":"quantitative"},"x2":{"field":"b"},"y":{"field":"c","type":"quantitative"},"y2":{"field":"d"},"color":{"field":"v","type":"quantitative","legend":null,"scale":{"type":"threshold","domain":[0.124,0.222,0.32,0.417,0.514,0.612,0.709,0.807,0.905],"range":["#053061","#2166ac","#4393c3","#92c5de","#d1e5f0","#fddbc7","#f4a582","#d6604d","#b2182b","#67001f"]}}}},
  {"data":{"name":"heat"},"mark":"rect","encoding":{"x":{"field":"c","type":"quantitative"},"x2":{"field":"d"},"y":{"field":"a","type":"quantitative"},"y2":{"field":"b"},"color":{"field":"v","type":"quantitative","legend":null,"scale":{"type":"threshold","domain":[0.124,0.222,0.32,0.417,0.514,0.612,0.709,0.807,0.905],"range":["#053061","#2166ac","#4393c3","#92c5de","#d1e5f0","#fddbc7","#f4a582","#d6604d","#b2182b","#67001f"]}}}},
  {"data":{"name":"diag"},"mark":{"type":"rect","color":"#67001f"},"encoding":{"x":{"field":"a","type":"quantitative"},"x2":{"field":"b"},"y":{"field":"a","type":"quantitative"},"y2":{"field":"b"}}}
 ]}
]}
]}
